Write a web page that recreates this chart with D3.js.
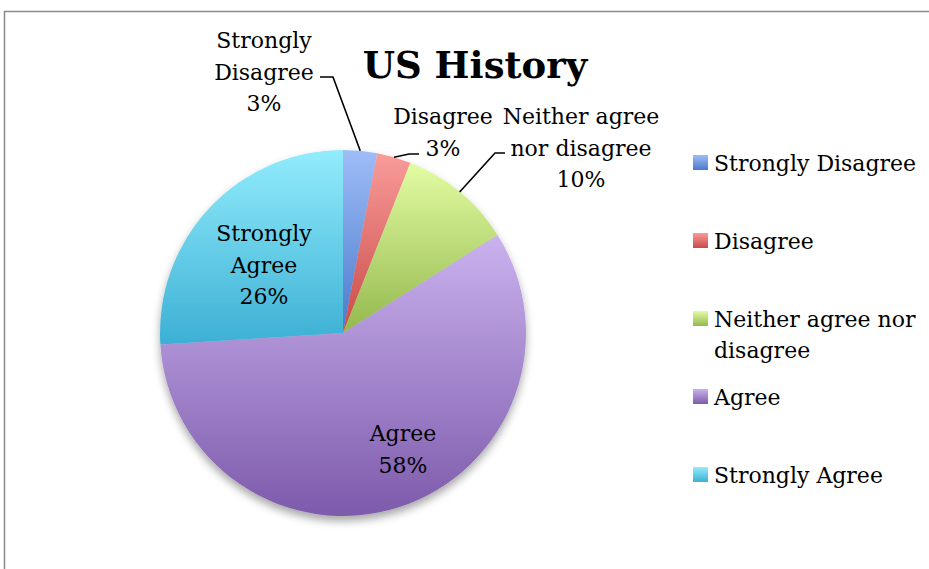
<!DOCTYPE html>
<html>
<head>
<meta charset="utf-8">
<script src="https://cdn.jsdelivr.net/npm/d3@7"></script>
<style>
  html, body { margin: 0; padding: 0; background: #fff; }
  svg { display: block; }
  text { font-family: "DejaVu Serif", serif; fill: #000; }
</style>
</head>
<body>
<div id="chart"></div>
<script>
// Survey responses for the US History course
const categories = ["Strongly Disagree", "Disagree", "Neither agree nor disagree", "Agree", "Strongly Agree"];
const values = [3, 3, 10, 58, 26];
// Legend text, wrapped the way it is shown
const legendLines = [["Strongly Disagree"], ["Disagree"], ["Neither agree nor", "disagree"], ["Agree"], ["Strongly Agree"]];
// Data-label text for each slice
const labelLines = [["Strongly", "Disagree"], ["Disagree"], ["Neither agree", "nor disagree"], ["Agree"], ["Strongly", "Agree"]];
// Gradient colours per slice: light top, base bottom
const topColors = ["#9ebdf7", "#f99c9a", "#e2fca2", "#cab2ee", "#92ecfc"];
const bottomColors = ["#4a7acb", "#c84a48", "#94b84e", "#7d5aab", "#3cb0d4"];

const W = 929, H = 569;
const cx = 343, cy = 333, R = 183;
const fontSize = 22, lineH = 31.5;

const svg = d3.select("#chart").append("svg").attr("width", W).attr("height", H);
const defs = svg.append("defs");

categories.forEach((c, i) => {
  const g = defs.append("linearGradient").attr("id", "grad" + i)
    .attr("x1", 0).attr("y1", 0).attr("x2", 0).attr("y2", 1);
  g.append("stop").attr("offset", "0%").attr("stop-color", topColors[i]);
  g.append("stop").attr("offset", "100%").attr("stop-color", bottomColors[i]);
});

const shadow = defs.append("filter").attr("id", "shadow")
  .attr("x", "-20%").attr("y", "-20%").attr("width", "140%").attr("height", "140%");
shadow.append("feDropShadow").attr("dx", 0).attr("dy", 5).attr("stdDeviation", 4)
  .attr("flood-color", "#000").attr("flood-opacity", 0.35);

// Chart frame
svg.append("path")
  .attr("d", `M4.5,${H} L4.5,11.5 L${W},11.5`)
  .attr("fill", "none").attr("stroke", "#8a8a8a").attr("stroke-width", 1.5);

// Title
svg.append("text").attr("x", 475).attr("y", 78)
  .attr("text-anchor", "middle").attr("font-weight", "bold").attr("font-size", 37)
  .text("US History");

// Pie
const pie = d3.pie().sort(null).value(d => d);
const arcs = pie(values);
const arc = d3.arc().innerRadius(0).outerRadius(R);

const pieG = svg.append("g").attr("transform", `translate(${cx},${cy})`).attr("filter", "url(#shadow)");
pieG.selectAll("path").data(arcs).join("path")
  .attr("d", arc)
  .attr("fill", (d, i) => `url(#grad${i})`);

// Data labels: inside for the large slices, with leader lines for the small ones
const labelLayout = [
  { x: 264, y: 48, lead: [[333, 77], [320, 77]] },
  { x: 443, y: 124, lead: [[409, 154], [419, 154]] },
  { x: 581, y: 124, lead: [[495, 153], [505, 153]] },
  { x: 403, y: 441 },
  { x: 264, y: 241 }
];

const labelG = svg.append("g");
arcs.forEach((a, i) => {
  const L = labelLayout[i];
  const lines = labelLines[i].concat([d3.format(".0%")(values[i] / d3.sum(values))]);
  const t = labelG.append("text").attr("text-anchor", "middle").attr("font-size", fontSize);
  lines.forEach((s, k) => {
    t.append("tspan").attr("x", L.x).attr("y", L.y + k * lineH).text(s);
  });
  if (L.lead) {
    const mid = (a.startAngle + a.endAngle) / 2;
    const px = cx + R * Math.sin(mid), py = cy - R * Math.cos(mid);
    const pts = [[px, py]].concat(L.lead);
    labelG.append("path")
      .attr("d", d3.line()(pts))
      .attr("fill", "none").attr("stroke", "#000").attr("stroke-width", 1.6);
  }
});

// Legend
const legendG = svg.append("g");
const rowY = d3.scaleLinear().domain([0, 1]).range([171, 249]);
categories.forEach((c, i) => {
  const by = rowY(i);
  legendG.append("rect").attr("x", 693).attr("y", by - 16).attr("width", 15).attr("height", 15)
    .attr("fill", `url(#grad${i})`);
  const t = legendG.append("text").attr("font-size", fontSize);
  legendLines[i].forEach((s, k) => {
    t.append("tspan").attr("x", 714).attr("y", by + k * 31).text(s);
  });
});
</script>
</body>
</html>
